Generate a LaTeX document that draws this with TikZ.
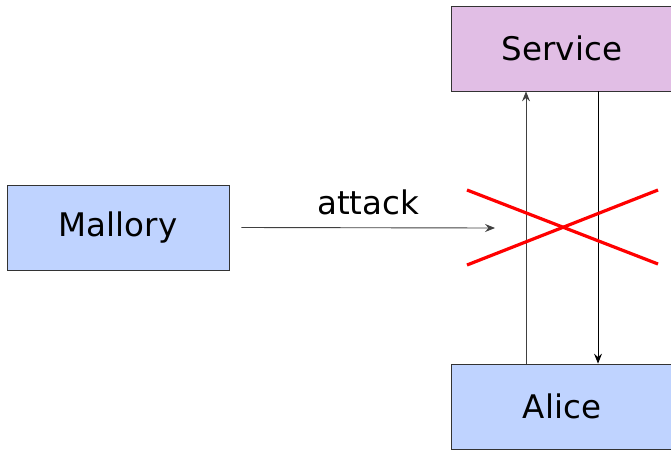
\documentclass[tikz,border=0pt]{standalone}
\usepackage{fontspec}
\setmainfont{DejaVu Sans}
\usetikzlibrary{arrows.meta}
\definecolor{svcfill}{HTML}{E1BEE5}
\definecolor{userfill}{HTML}{BFD3FF}
\definecolor{xred}{HTML}{FF0000}
\tikzset{
  party/.style={draw=black!80, line width=0.8pt, minimum width=222pt, minimum height=85pt,
                inner sep=0pt, font=\fontsize{32.5}{38}\selectfont},
  msg/.style={line width=0.9pt, -{Stealth[length=10pt,width=8pt,inset=3.5pt]}},
  cross/.style={draw=xred, line width=3.2pt}
}
\begin{document}
\begin{tikzpicture}[x=1pt,y=-1pt]
  \useasboundingbox (0,0) rectangle (671,450);
  \begin{scope}
    \clip (0,0) rectangle (671,450);
    \node[party, fill=svcfill] (svc) at (562,48.5) {Service};
    \node[party, fill=userfill] (alice) at (562,406.5) {Alice};
  \end{scope}
  \node[party, fill=userfill] (mal) at (118,227.5) {Mallory};

  % requests and replies between Alice and the service
  \draw[msg, black!75] (alice.north -| 526,0) -- (svc.south -| 526,0);
  \draw[msg] (svc.south -| 598,0) -- (alice.north -| 598,0);

  % the attack attempt
  \coordinate (hit) at (495,228);
  \draw[msg, black!75] (mal.east) ++(12pt,0) -- (hit)
    node[midway, above=9pt, font=\fontsize{32.5}{38}\selectfont, text=black] (lbl) {attack};

  % blocked
  \coordinate (xa) at (467,190);
  \coordinate (xb) at (658,264);
  \coordinate (xc) at (467,265);
  \coordinate (xd) at (658,190);
  \draw[cross] (xa) -- (xb);
  \draw[cross] (xc) -- (xd);
\end{tikzpicture}
\end{document}
